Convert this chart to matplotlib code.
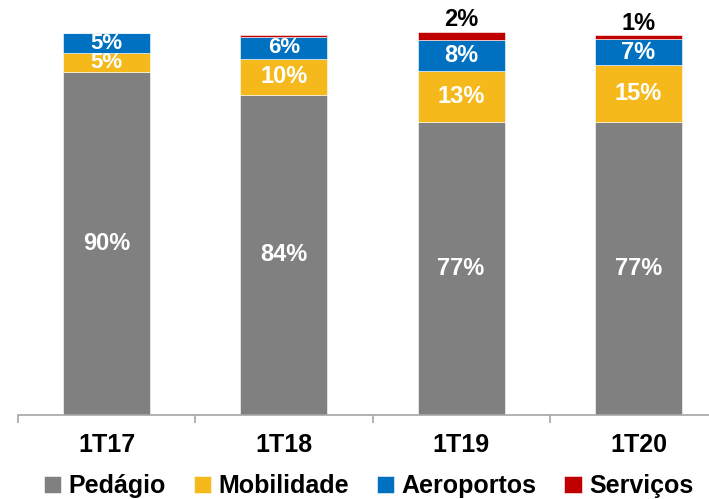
import matplotlib
matplotlib.use("Agg")
import matplotlib.pyplot as plt
import numpy as np

categories = ["1T17", "1T18", "1T19", "1T20"]
pedagio = [89.7, 83.8, 76.8, 76.8]
mobilidade = [5.1, 9.5, 13.4, 14.8]
aeroportos = [5.2, 5.8, 8.0, 6.8]
servicos = [0.0, 0.35, 2.2, 1.05]

lab_pedagio = ["90%", "84%", "77%", "77%"]
lab_mobilidade = ["5%", "10%", "13%", "15%"]
lab_aeroportos = ["5%", "6%", "8%", "7%"]
lab_servicos = ["", "", "2%", "1%"]

series = ["Pedágio", "Mobilidade", "Aeroportos", "Serviços"]
colors = ["#808080", "#F5B91B", "#0070C0", "#C00000"]

plt.rcParams['font.family'] = ['Liberation Sans', 'DejaVu Sans']

fig = plt.figure(figsize=(7.09, 4.99), dpi=100)
ax = fig.add_axes([18/709, 84/499, 1.0, 401/499])

x = np.arange(len(categories))
w = 0.49
bottom = np.zeros(len(categories))
data = [pedagio, mobilidade, aeroportos, servicos]
labels = [lab_pedagio, lab_mobilidade, lab_aeroportos, lab_servicos]
for i, (vals, col, name) in enumerate(zip(data, colors, series)):
    vals = np.array(vals)
    ax.bar(x, vals, w, bottom=bottom, color=col, label=name,
           edgecolor='white', linewidth=0.4)
    for j in range(len(categories)):
        t = labels[i][j]
        if not t:
            continue
        if i == 3:
            ax.text(x[j], bottom[j] + vals[j] + 0.1, t, ha='center', va='bottom',
                    color='black', fontsize=17, fontweight='bold')
        else:
            fs = 16 if vals[j] < 6 else 17
            ax.text(x[j], bottom[j] + vals[j] / 2, t, ha='center', va='center',
                    color='white', fontsize=fs, fontweight='bold')
    bottom = bottom + vals

ax.set_xlim(-0.5, 3.5)
ax.set_ylim(0, 105)
ax.set_yticks([])
for s in ['left', 'top', 'right']:
    ax.spines[s].set_visible(False)
ax.spines['bottom'].set_color('#A6A6A6')
ax.spines['bottom'].set_linewidth(1.2)
ax.set_xticks(x)
ax.set_xticklabels(categories, fontsize=18, fontweight='bold')
ax.tick_params(axis='x', which='major', length=0, pad=13)
ax.set_xticks([-0.5, 0.5, 1.5, 2.5, 3.5], minor=True)
ax.tick_params(axis='x', which='minor', length=6, color='#A6A6A6', width=1.2)

handles, lbls = ax.get_legend_handles_labels()
fig.legend(handles, lbls, loc='center', bbox_to_anchor=(0.52, 0.026),
           ncol=4, frameon=False,
           prop={'weight': 'bold', 'size': 18},
           handlelength=0.7, handleheight=0.7, handletextpad=0.3,
           columnspacing=1.1)

fig.savefig("out.png", dpi=100)
